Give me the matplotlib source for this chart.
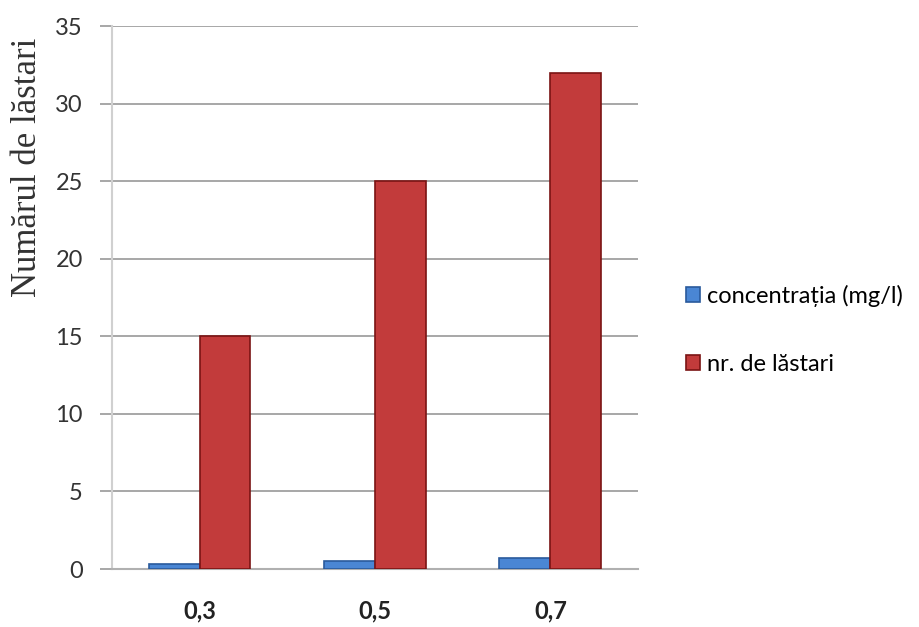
import matplotlib.pyplot as plt
import numpy as np

categories = ['0,3', '0,5', '0,7']
concentratia = [0.3, 0.5, 0.7]
nr_lastari = [15, 25, 32]
y_ticks = [0, 5, 10, 15, 20, 25, 30, 35]

sans = ['Lato', 'DejaVu Sans']

fig = plt.figure(figsize=(9.2, 6.27), dpi=100)
ax = fig.add_axes([0.1217, 0.0925, 0.5718, 0.866])

x = np.arange(len(categories))
w = 0.29
ax.bar(x - w / 2, concentratia, w, color='#4a86d4', edgecolor='#2a5a9c',
       linewidth=1.2, label='concentrația (mg/l)', zorder=3)
ax.bar(x + w / 2, nr_lastari, w, color='#c23b3b', edgecolor='#7a1414',
       linewidth=1.2, label='nr. de lăstari', zorder=3)

ax.set_xlim(-0.5, 2.5)
ax.set_ylim(0, 35)
ax.set_yticks(y_ticks)
ax.set_xticks(x)
ax.set_xticklabels(categories, fontweight='bold', fontsize=17, family=sans,
                   color='#222222')
for lbl in ax.get_yticklabels():
    lbl.set_family(sans)
    lbl.set_fontsize(17)
    lbl.set_color('#333333')

ax.yaxis.grid(True, color='#a0a0a0', linewidth=1.3, zorder=0)
ax.tick_params(axis='y', length=9, color='#a0a0a0', width=1.3, pad=12)
ax.tick_params(axis='x', length=0, pad=22)
for s in ['top', 'right']:
    ax.spines[s].set_visible(False)
ax.spines['left'].set_color('#d0d0d0')
ax.spines['left'].set_linewidth(1.5)
ax.spines['bottom'].set_color('#b0b0b0')
ax.spines['bottom'].set_linewidth(1.5)

ax.set_ylabel('Numărul de lăstari', family='Liberation Serif', fontsize=25,
              color='#333333')
ax.yaxis.set_label_coords(-0.13, 0.74)

ax.legend(loc='center left', bbox_to_anchor=(1.05, 0.44), frameon=False,
          prop={'family': sans, 'size': 17},
          handlelength=0.6, handleheight=0.6, handletextpad=0.3, labelspacing=2.0)

fig.savefig('out.png', dpi=100)
